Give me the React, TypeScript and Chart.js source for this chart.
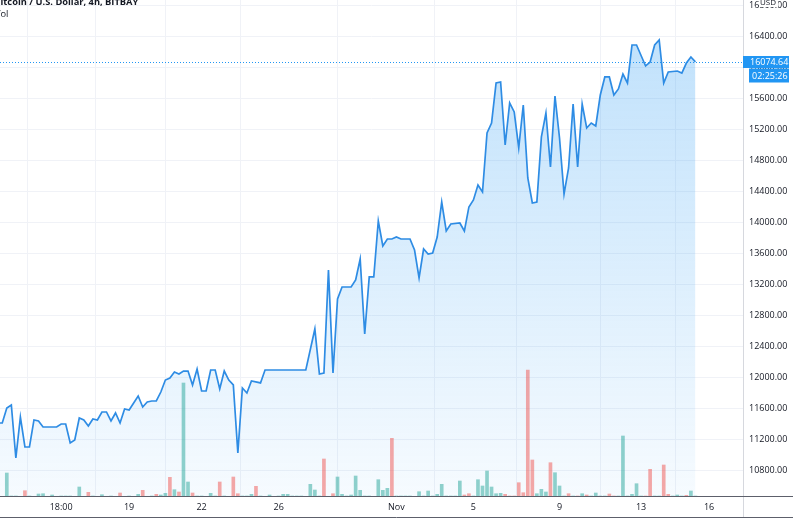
import React, { useEffect, useRef } from "react";
import { Chart, registerables } from "chart.js";

Chart.register(...registerables);

const FONT = "'Open Sans', 'Noto Sans', sans-serif";

const title = "Bitcoin / U.S. Dollar, 4h, BITBAY";
const volTitle = "Vol";
const currency = "USD";
const countdown = "02:25:26";
const lastPrice = 16074.64;

// bar index of each visible turning point of the close line
const priceIdx = [
  -1, 0, 1, 2, 3, 4, 5, 6, 7, 8, 9, 10, 12, 13, 14, 15, 16, 17, 18, 19,
  20, 21, 22, 23, 24, 25, 26, 27, 28, 30, 31, 32, 33, 34, 35, 36, 37, 38, 39, 40,
  41, 42, 43, 44, 45, 46, 47, 48, 49, 50, 51, 52, 53, 54, 55, 57, 58, 67, 69, 70,
  71, 72, 73, 74, 75, 77, 78, 79, 80, 81, 82, 83, 84, 85, 86, 87, 88, 90, 91, 92,
  93, 94, 95, 96, 97, 98, 99, 101, 102, 103, 104, 105, 106, 107, 108, 109, 110, 111, 112, 113,
  114, 115, 116, 117, 118, 119, 120, 121, 122, 123, 124, 125, 126, 127, 128, 129, 130, 131, 132, 133,
  134, 135, 136, 137, 138, 139, 140, 142, 143, 144, 145, 146, 147, 149, 150, 151, 152, 153,
];
// close price (USD) at those bars
const priceVal = [
  11411, 11411, 11605, 11643, 10959, 11488, 11101, 11101, 11450, 11437, 11359, 11359, 11359, 11398, 11398, 11153, 11191, 11475, 11450, 11372,
  11463, 11450, 11553, 11553, 11437, 11540, 11411, 11592, 11579, 11760, 11618, 11682, 11695, 11695, 11811, 11966, 11992, 12070, 12044, 12082,
  12082, 11902, 12108, 11824, 11824, 12095, 12095, 11850, 12082, 11966, 11902, 11024, 11863, 11798, 11953, 11928, 12095, 12095, 12625, 12044,
  12057, 13387, 12057, 13012, 13167, 13167, 13258, 13529, 12560, 13297, 13297, 14020, 13697, 13787, 13787, 13813, 13787, 13787, 13645, 13284,
  13658, 13594, 13606, 13813, 14265, 13891, 13981, 13994, 13891, 14201, 14291, 14485, 14394, 15156, 15285, 15802, 15815, 15001, 15544, 15428,
  14963, 15518, 14575, 14252, 14265, 15105, 15415, 14717, 15634, 15092, 14368, 14704, 15531, 14717, 15531, 15221, 15285, 15247, 15647, 15880,
  15880, 15647, 15725, 15918, 15802, 16293, 16293, 16022, 16073, 16293, 16357, 15802, 15944, 15957, 15931, 16060, 16138, 16074.64,
];

// volume per bar (bar index 0..153)
const volume = [
  5, 240, 10, 10, 5, 63, 10, 5, 30, 33,
  5, 20, 5, 10, 10, 10, 5, 100, 5, 47,
  10, 5, 23, 5, 10, 5, 40, 5, 10, 5,
  27, 67, 5, 10, 27, 20, 37, 197, 73, 50,
  1140, 150, 40, 10, 10, 5, 37, 10, 150, 10,
  5, 200, 33, 10, 10, 27, 107, 10, 5, 20,
  5, 10, 27, 27, 10, 10, 10, 5, 127, 70,
  10, 380, 5, 33, 200, 27, 10, 20, 210, 67,
  10, 10, 5, 173, 67, 87, 587, 10, 10, 10,
  10, 5, 53, 10, 60, 10, 27, 127, 10, 10,
  10, 160, 20, 33, 10, 173, 110, 260, 100, 33,
  37, 27, 10, 10, 143, 43, 1270, 370, 33, 77,
  50, 343, 243, 110, 10, 33, 10, 10, 33, 20,
  10, 40, 10, 10, 30, 10, 10, 610, 10, 27,
  133, 10, 10, 277, 10, 10, 320, 27, 10, 20,
  10, 17, 60, 10,
];
// 1 = up bar (green), 0 = down bar (red)
const volumeUp = [
  1, 1, 1, 1, 1, 0, 1, 1, 1, 1,
  1, 1, 1, 1, 1, 1, 1, 1, 1, 0,
  1, 1, 1, 1, 1, 1, 0, 1, 1, 1,
  1, 0, 1, 1, 0, 1, 1, 0, 1, 0,
  1, 1, 0, 1, 1, 1, 1, 1, 0, 1,
  1, 0, 0, 1, 1, 1, 0, 1, 1, 1,
  1, 1, 1, 1, 1, 1, 1, 1, 1, 1,
  1, 0, 1, 0, 1, 1, 1, 1, 1, 1,
  1, 1, 1, 1, 1, 1, 0, 1, 1, 1,
  1, 1, 1, 1, 1, 1, 1, 1, 1, 1,
  1, 1, 0, 0, 1, 1, 1, 1, 1, 1,
  1, 0, 0, 0, 0, 0, 0, 0, 1, 1,
  1, 0, 1, 1, 1, 0, 1, 0, 1, 0,
  1, 1, 1, 1, 0, 0, 1, 1, 1, 1,
  1, 1, 0, 0, 1, 1, 0, 0, 1, 1,
  1, 0, 1, 1,
];

const xTickIdx = [13, 28, 44, 61, 87, 104, 123, 141, 156];
const xTickLabels = ["18:00", "19", "22", "26", "Nov", "5", "9", "13", "16"];
const yTicks = [10800, 11200, 11600, 12000, 12400, 12800, 13200, 13600, 14000, 14400, 14800, 15200, 15600, 16000, 16400, 16800];

const zeroPad = (s: any) => {
  s.paddingTop = 0;
  s.paddingBottom = 0;
  s.paddingLeft = 0;
  s.paddingRight = 0;
};

const overlayPlugin = {
  id: "tvOverlay",
  afterDraw(chart: any) {
    const { ctx, chartArea: ca, scales } = chart;
    const W = chart.width;
    ctx.save();
    // price line (dotted)
    const py = Math.round(scales.y.getPixelForValue(lastPrice)) + 0.5;
    ctx.strokeStyle = "#2196f3";
    ctx.lineWidth = 1;
    ctx.setLineDash([1, 2]);
    ctx.beginPath();
    ctx.moveTo(ca.left, py);
    ctx.lineTo(ca.right, py);
    ctx.stroke();
    ctx.setLineDash([]);

    // axis separators
    ctx.strokeStyle = "#d6d8de";
    ctx.beginPath();
    ctx.moveTo(ca.right + 0.5, 0);
    ctx.lineTo(ca.right + 0.5, 518);
    ctx.stroke();
    ctx.strokeStyle = "#5d606b";
    ctx.beginPath();
    ctx.moveTo(0, ca.bottom - 0.5);
    ctx.lineTo(W, ca.bottom - 0.5);
    ctx.moveTo(0, 517.5);
    ctx.lineTo(W, 517.5);
    ctx.stroke();

    // last price label + countdown
    ctx.fillStyle = "#2196f3";
    ctx.fillRect(ca.right, py - 6.5, 46, 12);
    ctx.fillRect(ca.right + 6, py + 6, 40, 14);
    ctx.fillStyle = "#ffffff";
    ctx.font = `9px ${FONT}`;
    ctx.textBaseline = "middle";
    ctx.textAlign = "left";
    ctx.fillText(lastPrice.toFixed(2), ca.right + 7, py);
    ctx.fillText(countdown, ca.right + 9, py + 13.5);

    // currency label over top tick
    ctx.fillStyle = "#ffffff";
    ctx.fillRect(ca.right + 16, 0, 19, 7);
    ctx.fillStyle = "#131722";
    ctx.font = `8px ${FONT}`;
    ctx.textBaseline = "alphabetic";
    ctx.textAlign = "center";
    ctx.fillText(currency, ca.right + 25, 4.5);

    // legend texts (cut by left edge)
    ctx.textAlign = "left";
    ctx.fillStyle = "#131722";
    ctx.font = `bold 9.3px ${FONT}`;
    const wB = ctx.measureText(title.charAt(0)).width;
    ctx.fillText(title, -wB + 0.5, 4.5);
    ctx.font = `9.3px ${FONT}`;
    const wV = ctx.measureText(volTitle.charAt(0)).width;
    ctx.fillText(volTitle, -wV + 0.5, 17);
    ctx.restore();
  },
};

export default function App() {
  const ref = useRef<HTMLCanvasElement>(null);
  useEffect(() => {
    const canvas = ref.current;
    if (!canvas) return;
    const linePoints = priceIdx.map((x, i) => ({ x, y: priceVal[i] }));
    const volPoints = volume.map((v, i) => ({ x: i, y: v }));
    const volColors = volumeUp.map((u) => (u ? "rgba(38,166,154,0.5)" : "rgba(239,83,80,0.5)"));
    const maxPrice = Math.max(...priceVal);

    const chart = new Chart(canvas, {
      type: "line",
      data: {
        datasets: [
          {
            type: "bar",
            data: volPoints as any,
            xAxisID: "x",
            yAxisID: "vol",
            backgroundColor: volColors,
            borderWidth: 0,
            barThickness: 3,
            grouped: false,
            order: 1,
          } as any,
          {
            type: "line",
            data: linePoints as any,
            xAxisID: "x",
            yAxisID: "y",
            borderColor: "#2e8ce4",
            borderWidth: 1.7,
            pointRadius: 0,
            tension: 0,
            fill: "start",
            order: 2,
            backgroundColor: (c: any) => {
              const { ctx, chartArea, scales } = c.chart;
              if (!chartArea) return "rgba(33,150,243,0.15)";
              const top = scales.y.getPixelForValue(maxPrice);
              const g = ctx.createLinearGradient(0, top, 0, chartArea.bottom);
              g.addColorStop(0, "rgba(33,150,243,0.28)");
              g.addColorStop(1, "rgba(33,150,243,0.04)");
              return g;
            },
          } as any,
        ],
      },
      options: {
        animation: false,
        responsive: false,
        devicePixelRatio: 1,
        layout: { padding: 0, autoPadding: false } as any,
        plugins: { legend: { display: false }, tooltip: { enabled: false } },
        scales: {
          x: {
            type: "linear",
            position: "bottom",
            min: -0.5,
            max: 163.5,
            offset: false,
            afterBuildTicks: (s: any) => {
              s.ticks = xTickIdx.map((v) => ({ value: v }));
            },
            afterFit: (s: any) => {
              s.height = 23;
              zeroPad(s);
            },
            grid: { color: "#f0f2f7", drawTicks: false, lineWidth: 1 },
            border: { display: false },
            ticks: {
              autoSkip: false,
              maxRotation: 0,
              padding: 5,
              color: "#131722",
              font: { family: FONT, size: 9 },
              callback: (v: any) => {
                const k = xTickIdx.indexOf(Number(v));
                return k >= 0 ? xTickLabels[k] : "";
              },
            },
          },
          y: {
            type: "linear",
            position: "right",
            min: 10455,
            max: 16874,
            afterBuildTicks: (s: any) => {
              s.ticks = yTicks.map((v) => ({ value: v }));
            },
            afterFit: (s: any) => {
              s.width = 50;
              zeroPad(s);
            },
            grid: { color: "#f0f2f7", drawTicks: false, lineWidth: 1 },
            border: { display: false },
            ticks: {
              autoSkip: false,
              padding: 6,
              color: "#131722",
              font: { family: FONT, size: 9 },
              callback: (v: any) => Number(v).toFixed(2),
            },
          },
          vol: {
            type: "linear",
            axis: "y",
            display: false,
            min: 0,
            max: 4970,
          } as any,
        },
      },
      plugins: [overlayPlugin],
    } as any);
    return () => chart.destroy();
  }, []);

  return (
    <div style={{ position: "fixed", left: 0, top: 0, width: 793, height: 520, background: "#ffffff" }}>
      <canvas ref={ref} width={793} height={520} style={{ display: "block", width: 793, height: 520 }} />
    </div>
  );
}
